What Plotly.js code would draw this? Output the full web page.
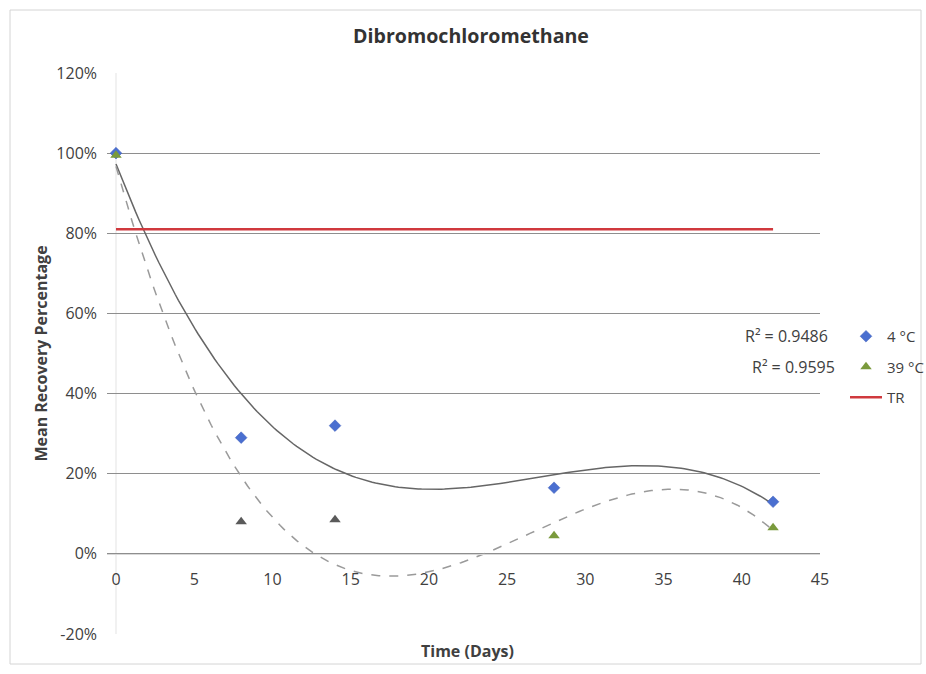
<!DOCTYPE html>
<html>
<head>
<meta charset="utf-8">
<script src="https://cdn.plot.ly/plotly-3.0.1.min.js"></script>
<style>html,body{margin:0;padding:0;background:#fff;}#chart{width:926px;height:674px;}</style>
</head>
<body>
<div id="chart"></div>
<script>
// ---- data ----
const days = [0, 8, 14, 28, 42];
const rec4C = [100, 29, 32, 16.5, 13];
const rec39C = [99.5, 8, 8.5, 4.5, 6.5];
const trDays = [0, 42];
const trLevel = [81, 81];
const yTickVals = [-20, 0, 20, 40, 60, 80, 100, 120];
const yTickText = ['-20%', '0%', '20%', '40%', '60%', '80%', '100%', '120%'];
const xTickVals = [0, 5, 10, 15, 20, 25, 30, 35, 40, 45];
const r2Labels = ['R² = 0.9486', 'R² = 0.9595'];
const seriesNames = ['4 °C', '39 °C', 'TR'];
const colors39 = ['#7a9a3c', '#5a5a5a', '#5a5a5a', '#7a9a3c', '#7a9a3c'];

// ---- 3rd-order polynomial trendline (least squares, like Excel) ----
function polyFit(xs, ys, order) {
  const n = order + 1;
  const A = [], b = [];
  for (let i = 0; i < n; i++) {
    A.push([]);
    for (let j = 0; j < n; j++) {
      let s = 0; xs.forEach(x => s += Math.pow(x, i + j)); A[i].push(s);
    }
    let t = 0; xs.forEach((x, k) => t += ys[k] * Math.pow(x, i)); b.push(t);
  }
  for (let c = 0; c < n; c++) {
    let p = c;
    for (let r = c + 1; r < n; r++) if (Math.abs(A[r][c]) > Math.abs(A[p][c])) p = r;
    [A[c], A[p]] = [A[p], A[c]]; [b[c], b[p]] = [b[p], b[c]];
    for (let r = c + 1; r < n; r++) {
      const f = A[r][c] / A[c][c];
      for (let k = c; k < n; k++) A[r][k] -= f * A[c][k];
      b[r] -= f * b[c];
    }
  }
  const coef = new Array(n).fill(0);
  for (let i = n - 1; i >= 0; i--) {
    let s = b[i];
    for (let k = i + 1; k < n; k++) s -= A[i][k] * coef[k];
    coef[i] = s / A[i][i];
  }
  return coef;
}
function trend(xs, ys) {
  const c = polyFit(xs, ys, 3);
  const lo = Math.min(...xs), hi = Math.max(...xs);
  const tx = [], ty = [];
  for (let i = 0; i <= 200; i++) {
    const x = lo + (hi - lo) * i / 200;
    tx.push(x); ty.push(c[0] + c[1] * x + c[2] * x * x + c[3] * x * x * x);
  }
  return {x: tx, y: ty};
}
const t4 = trend(days, rec4C);
const t39 = trend(days, rec39C);

const FONT = 'Open Sans, Noto Sans, sans-serif';
const traces = [
  {x: t4.x, y: t4.y, mode: 'lines', line: {color: '#666666', width: 1.5}, showlegend: false, hoverinfo: 'skip'},
  {x: t39.x, y: t39.y, mode: 'lines', line: {color: '#9a9a9a', width: 1.5, dash: 'dash'}, showlegend: false, hoverinfo: 'skip'},
  {x: trDays, y: trLevel, mode: 'lines', name: seriesNames[2], legendgroup: 'c', legendrank: 3,
   line: {color: '#d0393e', width: 2.5}},
  {x: days, y: rec4C, mode: 'markers', name: seriesNames[0], legendgroup: 'a', legendrank: 1,
   marker: {symbol: 'diamond', size: 9, color: '#4a6fd0', line: {color: '#3a5bb8', width: 0.5}}},
  {x: days, y: rec39C, mode: 'markers', name: seriesNames[1], legendgroup: 'b', legendrank: 2,
   marker: {symbol: 'triangle-up', size: 10, color: colors39}}
];

const plotL = 107, plotR = 820, plotT = 73, plotB = 634;
const W = plotR - plotL, H = plotB - plotT;
const px = v => (v - plotL) / W;
const py = v => (plotB - v) / H;

const layout = {
  width: 926, height: 674,
  margin: {l: plotL, r: 926 - plotR, t: plotT, b: 674 - plotB, pad: 0, autoexpand: false},
  paper_bgcolor: '#ffffff', plot_bgcolor: '#ffffff',
  font: {family: FONT, color: '#404040', size: 16},
  title: {text: '<b>Dibromochloromethane</b>', font: {family: FONT, size: 19.6, color: '#333333'},
          x: 471 / 926, xanchor: 'center', xref: 'container', y: 1 - 36 / 674, yanchor: 'middle', yref: 'container'},
  xaxis: {
    range: [-9 / (704 / 45), 45], tickvals: xTickVals, showgrid: false, zeroline: false,
    showline: true, linecolor: '#d9d9d9', linewidth: 1.5,
    anchor: 'free', position: 20 / 140, ticks: '', ticklabelstandoff: 10,
    tickfont: {size: 16, color: '#404040'}
  },
  yaxis: {
    range: [-20, 120], tickvals: yTickVals, ticktext: yTickText, showgrid: true,
    gridcolor: '#8e8e8e', gridwidth: 1, zeroline: false, showline: false,
    ticks: '', ticklabelstandoff: 9, tickfont: {size: 16, color: '#404040'},
    title: {text: '<b>Mean Recovery Percentage</b>', font: {size: 16, color: '#404040'}, standoff: 4}
  },
  legend: {xref: 'container', yref: 'container', x: 845 / 926, y: 1 - 320 / 674, xanchor: 'left', yanchor: 'top',
           traceorder: 'grouped', tracegroupgap: 8, font: {size: 15, color: '#404040'},
           bgcolor: 'rgba(0,0,0,0)', itemwidth: 32},
  shapes: [
    {type: 'line', xref: 'x', yref: 'y', x0: 0, x1: 0, y0: -20, y1: 120, line: {color: '#e3e3e3', width: 1}, layer: 'below'},
    {type: 'rect', xref: 'paper', yref: 'paper', x0: px(10), x1: px(921), y0: py(664), y1: py(10), line: {color: '#d4d4d4', width: 1}}
  ],
  annotations: [
    {text: '<b>Time (Days)</b>', xref: 'paper', yref: 'paper', x: px(467), y: py(651), showarrow: false,
     font: {size: 16, color: '#404040'}, xanchor: 'center', yanchor: 'middle'},
    {text: r2Labels[0], xref: 'paper', yref: 'paper', x: px(830), y: py(336), showarrow: false,
     font: {size: 16, color: '#404040'}, xanchor: 'right', yanchor: 'middle'},
    {text: r2Labels[1], xref: 'paper', yref: 'paper', x: px(837), y: py(367), showarrow: false,
     font: {size: 16, color: '#404040'}, xanchor: 'right', yanchor: 'middle'}
  ],
  showlegend: true
};

Plotly.newPlot('chart', traces, layout, {displayModeBar: false, staticPlot: true});
</script>
</body>
</html>
